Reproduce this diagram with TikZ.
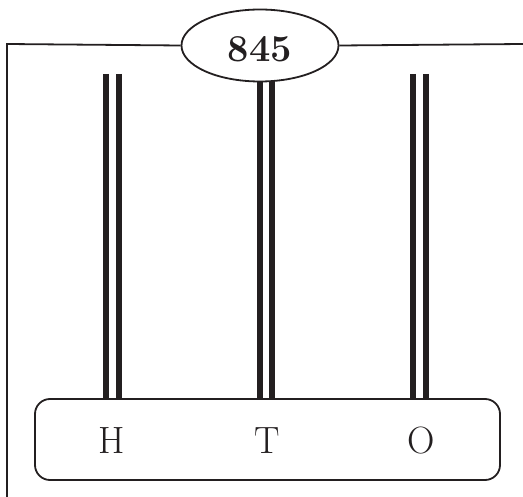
\documentclass[tikz,border=0pt]{standalone}
\usetikzlibrary{shapes.geometric}
\definecolor{ink}{HTML}{231F20}
\begin{document}
\begin{tikzpicture}[x=1pt,y=-1pt,
  frame/.style={draw=ink,line width=1.8pt},
  rod/.style={draw=ink,line width=6pt},
  label/.style={font=\fontsize{38}{38}\selectfont,text=ink,inner sep=0pt,anchor=base}]
\useasboundingbox (0,0) rectangle (523,497);
% rods (behind)
\coordinate (h1) at (106.3,74);
\coordinate (h2) at (118.8,74);
\coordinate (t1) at (260,82);
\coordinate (t2) at (272.3,82);
\coordinate (o1) at (413,74);
\coordinate (o2) at (426,74);
\node[frame,rounded corners=15pt,minimum width=465pt,minimum height=81pt,inner sep=0pt] (base) at (267.5,439.5) {};
\foreach \c in {h1,h2,t1,t2,o1,o2}{
  \draw[rod] (\c) -- (\c |- base.north);
}
\node[frame,fill=white,ellipse,minimum width=157pt,minimum height=72pt,inner sep=0pt] (top) at (260,45.5) {};
\node[label,font=\fontsize{38}{38}\selectfont\bfseries] (num) at (260,61.5) {845};
\draw[frame] (top.west) -- (7,44) -- (7,497);
\draw[frame] (top.east) -- (523,44);
\node[label] (H) at (112,454) {H};
\node[label] (T) at (267,454) {T};
\node[label] (O) at (421,454) {O};
\end{tikzpicture}
\end{document}
